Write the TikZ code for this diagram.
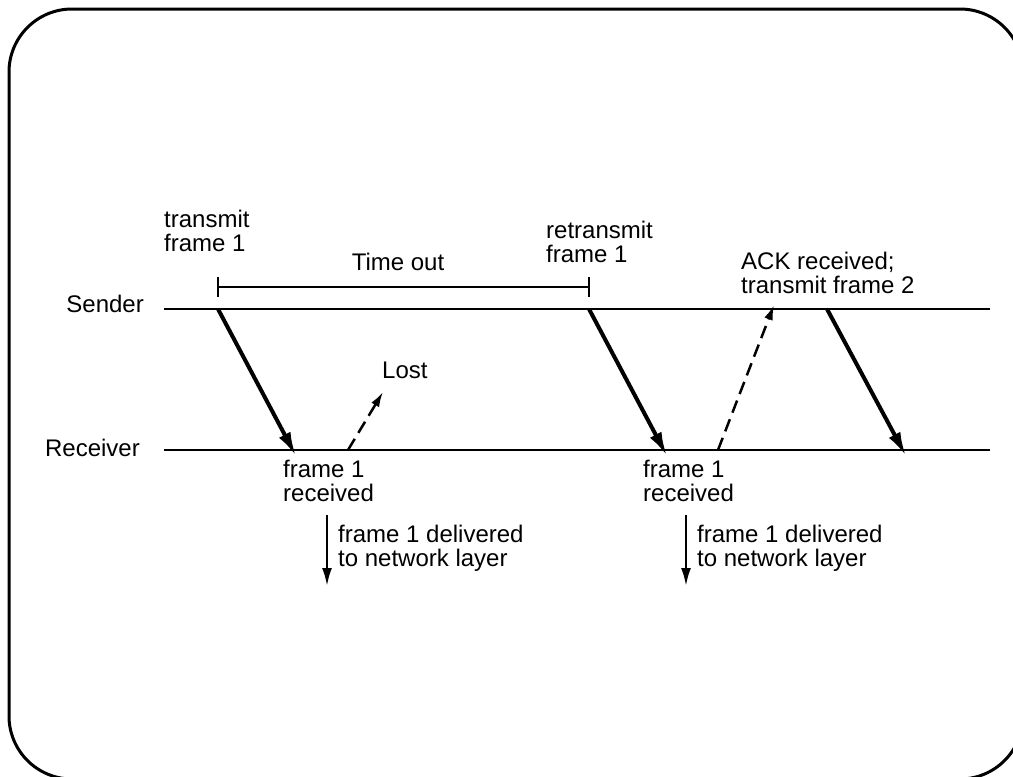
\documentclass[tikz,border=0pt]{standalone}
\usepackage{fontspec}
\setmainfont{Liberation Sans}
\usetikzlibrary{arrows.meta}
\begin{document}
\begin{tikzpicture}[x=1pt,y=-1pt,
  txt/.style={inner sep=0pt, anchor=base west, align=left, font=\fontsize{24}{23.5}\selectfont},
  rlabel/.style={inner sep=0pt, anchor=base east, font=\fontsize{24}{23.5}\selectfont},
  timeline/.style={line width=1.4pt},
  framearrow/.style={line width=4pt, -{Latex[length=24pt,width=13pt]}},
  ackarrow/.style={line width=2.5pt, dash pattern=on 13pt off 7pt, -{Latex[length=15pt,width=9pt]}},
  deliver/.style={line width=2.4pt, -{Latex[length=18pt,width=10pt]}},
  bar/.style={line width=2pt}
]
\useasboundingbox (0,0) rectangle (1013,777);
\clip (0,0) rectangle (1013,777);
% outer rounded frame
\draw[line width=3pt, rounded corners=63pt] (9,9) rectangle (1023,779);

% time lines
\coordinate (s0) at (164,309); \coordinate (s1) at (990,309);
\coordinate (r0) at (164,450); \coordinate (r1) at (990,450);
\draw[timeline] (s0) -- (s1);
\draw[timeline] (r0) -- (r1);
\node[rlabel] (sender) at (144,312) {Sender};
\node[rlabel] (receiver) at (140,456) {Receiver};

% time-out interval
\coordinate (t0) at (218,287); \coordinate (t1) at (589,287);
\coordinate (t0a) at (218,277); \coordinate (t0b) at (218,297);
\coordinate (t1a) at (589,277); \coordinate (t1b) at (589,297);
\draw[bar] (t0) -- (t1);
\draw[bar] (t0a) -- (t0b);
\draw[bar] (t1a) -- (t1b);
\node[txt, anchor=base] (timeout) at (398,270) {Time out};

% first transmission (multi-line labels are placed by their last baseline)
\node[txt] (tx1) at (164,251) {transmit\\frame 1};
\coordinate (f1s) at (218,309); \coordinate (f1r) at (296,456);
\draw[framearrow] (f1s) -- (f1r);
\node[txt] (rx1) at (283,501) {frame 1\\received};
\coordinate (l0) at (348,450); \coordinate (l1) at (383,392);
\draw[ackarrow] (l0) -- (l1);
\node[txt] (lost) at (382,378) {Lost};
\coordinate (d1a) at (327,515); \coordinate (d1b) at (327,586);
\draw[deliver] (d1a) -- (d1b);
\node[txt] (dl1) at (338,566) {frame 1 delivered\\to network layer};

% retransmission
\node[txt] (tx2) at (546,262) {retransmit\\frame 1};
\coordinate (f2s) at (589,309); \coordinate (f2r) at (667,456);
\draw[framearrow] (f2s) -- (f2r);
\node[txt] (rx2) at (643,501) {frame 1\\received};
\coordinate (a0) at (718,450); \coordinate (a1) at (774,305);
\draw[ackarrow] (a0) -- (a1);
\coordinate (d2a) at (686,515); \coordinate (d2b) at (686,586);
\draw[deliver] (d2a) -- (d2b);
\node[txt] (dl2) at (697,566) {frame 1 delivered\\to network layer};

% next frame
\node[txt] (ackrx) at (741,293) {ACK received;\\transmit frame 2};
\coordinate (f3s) at (827,309); \coordinate (f3r) at (906,456);
\draw[framearrow] (f3s) -- (f3r);
\end{tikzpicture}
\end{document}
